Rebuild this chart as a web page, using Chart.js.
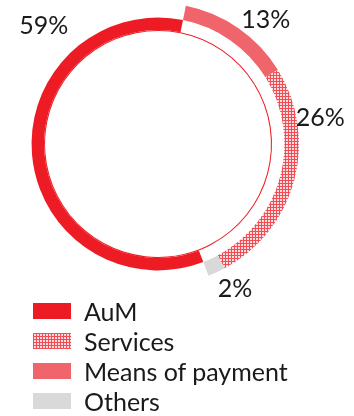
<!DOCTYPE html>
<html>
<head>
<meta charset="utf-8">
<script src="https://cdn.jsdelivr.net/npm/chart.js@4"></script>
<style>
  body { margin: 0; background: #fff; }
  #wrap { position: relative; width: 354px; height: 416px; font-family: Lato, "Open Sans", sans-serif; color: #1a1a1a; }
  #chart { position: absolute; left: 0; top: 0; }
  #legend { position: absolute; left: 33px; top: 296px; }
  .item { display: flex; align-items: center; height: 30px; font-size: 25px; line-height: 30px; }
  .item canvas { margin-right: 13px; }
</style>
</head>
<body>
<div id="wrap">
  <canvas id="chart" width="354" height="416"></canvas>
  <div id="legend"></div>
</div>
<script>
// slices in drawing order (clockwise, starting where AuM begins)
const categories = ['AuM', 'Means of payment', 'Services', 'Others'];
const shares = [59, 13, 26, 2];
const labels = ['59%', '13%', '26%', '2%'];
const legendOrder = [0, 2, 1, 3];

// where each percentage label sits (degrees clockwise from top)
const labelAngles = [316, 41, 81, 152];

const RED = '#ED1C24';

function checkerTile() {
    const c = document.createElement('canvas');
    c.width = 3; c.height = 3;
    const g = c.getContext('2d');
    g.fillStyle = '#F04D55';
    g.fillRect(0, 0, 3, 3);
    g.fillStyle = '#FCDCDE';
    g.fillRect(1, 1, 2, 2);
    return c;
}

const chartCtx = document.getElementById('chart').getContext('2d');
const servicesFill = chartCtx.createPattern(checkerTile(), 'repeat');
const fills = [RED, '#F0646C', servicesFill, '#D9D9D9'];
const CLEAR = 'rgba(0,0,0,0)';

const pctLabels = {
    id: 'pctLabels',
    afterDatasetsDraw(chart) {
        const arc = chart.getDatasetMeta(0).data[0];
        const ctx = chart.ctx;
        ctx.save();
        ctx.font = '25px Lato, "Open Sans", sans-serif';
        ctx.fillStyle = '#1a1a1a';
        ctx.textAlign = 'center';
        ctx.textBaseline = 'middle';
        labels.forEach((t, i) => {
            const a = labelAngles[i] * Math.PI / 180;
            const r = arc.outerRadius * 1.165;
            ctx.fillText(t, arc.x + r * Math.sin(a), arc.y - r * Math.cos(a));
        });
        ctx.restore();
    }
};

new Chart(chartCtx, {
    type: 'doughnut',
    data: {
        labels: categories,
        datasets: [
            {   // outer ring: everything except AuM
                data: shares,
                backgroundColor: fills.map((f, i) => i === 0 ? CLEAR : f),
                borderWidth: 0,
                weight: 14
            },
            {   // AuM ring
                data: shares,
                backgroundColor: fills.map((f, i) => i === 0 ? RED : CLEAR),
                borderWidth: 0,
                weight: 12
            },
            {   // thin inner line
                data: shares,
                backgroundColor: RED,
                borderWidth: 0,
                weight: 1
            }
        ]
    },
    options: {
        responsive: false,
        animation: false,
        rotation: 159,
        radius: 141,
        cutout: '80.1%',
        layout: { padding: { left: 17, right: 55, top: 3, bottom: 131 } },
        plugins: {
            legend: { display: false },
            tooltip: { enabled: false }
        }
    },
    plugins: [pctLabels]
});

const legend = document.getElementById('legend');
legendOrder.forEach(i => {
    const row = document.createElement('div');
    row.className = 'item';
    const sw = document.createElement('canvas');
    sw.width = 38; sw.height = 16;
    const g = sw.getContext('2d');
    g.fillStyle = i === 2 ? g.createPattern(checkerTile(), 'repeat') : fills[i];
    g.fillRect(0, 0, 38, 16);
    row.appendChild(sw);
    row.appendChild(document.createTextNode(categories[i]));
    legend.appendChild(row);
});
</script>
</body>
</html>
